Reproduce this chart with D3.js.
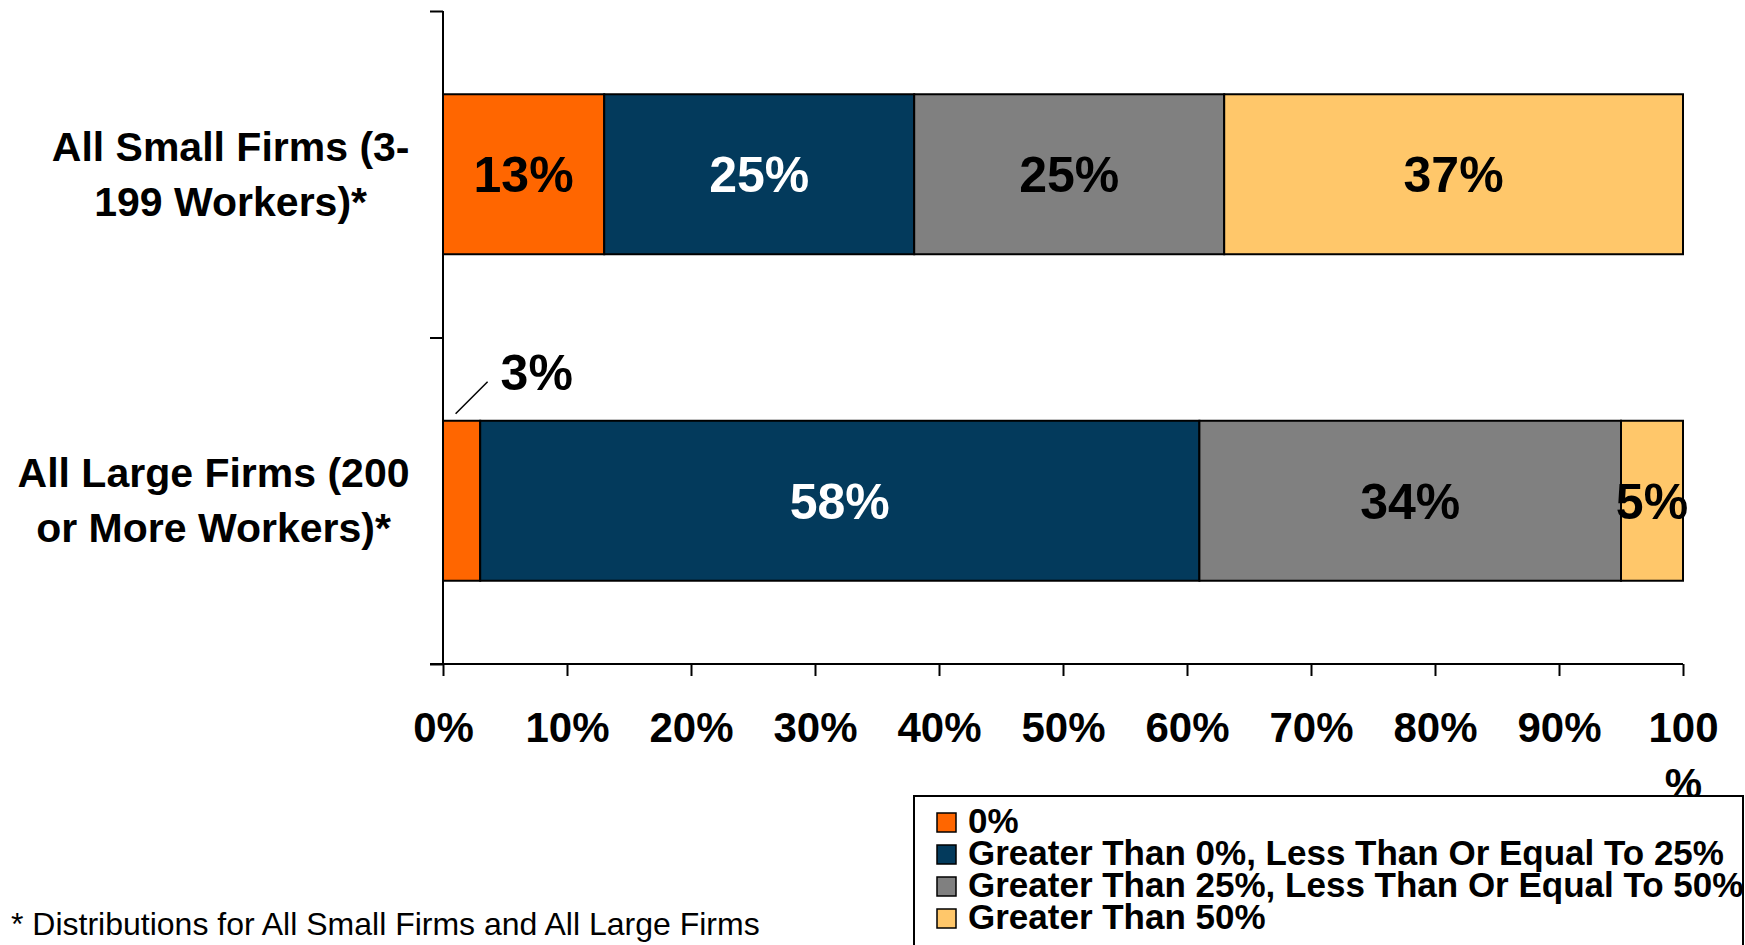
<!DOCTYPE html>
<html>
<head>
<meta charset="utf-8">
<script src="https://cdn.jsdelivr.net/npm/d3@7"></script>
<style>
  html, body { margin: 0; padding: 0; background: #fff; }
  svg { display: block; }
  text { font-family: "Liberation Sans", Arial, Helvetica, sans-serif; }
</style>
</head>
<body>
<svg id="chart" width="1745" height="945"></svg>
<script>
// Firm-size groups, each label split into its two display lines
const categories = ["small", "large"];
const categoryLines = [
  ["All Small Firms (3-", "199 Workers)*"],
  ["All Large Firms (200", "or More Workers)*"]
];

// Share of workers, by bucket
const seriesNames = [
  "0%",
  "Greater Than 0%, Less Than Or Equal To 25%",
  "Greater Than 25%, Less Than Or Equal To 50%",
  "Greater Than 50%"
];
const smallFirms = [13, 25, 25, 37];
const largeFirms = [3, 58, 34, 5];

const tickValues = [0, 10, 20, 30, 40, 50, 60, 70, 80, 90, 100];
const footnote = "* Distributions for All Small Firms and All Large Firms";

const fills = ["#FF6600", "#033A5C", "#808080", "#FFC76A"];
const labelColors = ["#000", "#fff", "#000", "#000"];

const FONT = "\"Liberation Sans\", Arial, Helvetica, sans-serif";

const svg = d3.select("#chart");

const plotLeft = 443, plotRight = 1683, plotTop = 11, plotBottom = 664;

const x = d3.scaleLinear().domain([0, 100]).range([plotLeft, plotRight]);
const y = d3.scaleBand().domain(categories).range([plotTop, plotBottom])
  .paddingInner(0.51).paddingOuter(0.255);
const yEdge = d3.scaleLinear().domain([0, categories.length]).range([plotTop, plotBottom]);

// Stack the buckets for each firm group
const rows = categories.map((c, i) => {
  const vals = i === 0 ? smallFirms : largeFirms;
  const o = { cat: c };
  seriesNames.forEach((s, j) => { o[s] = vals[j]; });
  return o;
});
const stacked = d3.stack().keys(seriesNames)(rows);

// Bars
const layers = svg.append("g").selectAll("g")
  .data(stacked)
  .join("g")
  .attr("fill", (d, i) => fills[i]);

layers.selectAll("rect")
  .data(d => d)
  .join("rect")
  .attr("x", d => x(d[0]))
  .attr("y", d => y(d.data.cat))
  .attr("width", d => x(d[1]) - x(d[0]))
  .attr("height", y.bandwidth())
  .attr("stroke", "#000")
  .attr("stroke-width", 2);

// Value labels
const labelData = [];
stacked.forEach((layer, si) => {
  layer.forEach(d => {
    labelData.push({ si, cat: d.data.cat, v0: d[0], v1: d[1], value: d[1] - d[0] });
  });
});

const gLabels = svg.append("g")
  .attr("font-size", 50)
  .attr("font-weight", "bold");

labelData.forEach(d => {
  const cy = y(d.cat) + y.bandwidth() / 2;
  if (d.value < 4) {
    // Narrow segment: label sits above the bar with a leader line
    const sx = (x(d.v0) + x(d.v1)) / 2 - 6;
    const sy = y(d.cat) - 7;
    svg.append("line")
      .attr("x1", sx).attr("y1", sy)
      .attr("x2", sx + 32).attr("y2", sy - 32)
      .attr("stroke", "#000").attr("stroke-width", 1.5);
    gLabels.append("text")
      .attr("x", sx + 45)
      .attr("y", sy - 24)
      .attr("fill", "#000")
      .text(d.value + "%");
  } else {
    gLabels.append("text")
      .attr("x", (x(d.v0) + x(d.v1)) / 2)
      .attr("y", cy + 18)
      .attr("text-anchor", "middle")
      .attr("fill", labelColors[d.si])
      .text(d.value + "%");
  }
});

// Vertical axis with ticks at the group boundaries
const yAxis = svg.append("g")
  .attr("transform", `translate(${plotLeft},0)`)
  .call(d3.axisLeft(yEdge).ticks(categories.length).tickSize(13).tickFormat(""));
yAxis.selectAll("path, line").attr("stroke", "#000").attr("stroke-width", 2);
yAxis.select(".domain").attr("d", `M0,${plotTop}V${plotBottom}`);

// Horizontal axis
const xAxis = svg.append("g")
  .attr("transform", `translate(0,${plotBottom})`)
  .call(d3.axisBottom(x).tickValues(tickValues).tickSizeInner(12).tickSizeOuter(0)
    .tickPadding(36).tickFormat(d => d + "%"));
xAxis.select(".domain").attr("d", `M${plotLeft - 13},0H${plotRight}`);
xAxis.selectAll("path, line").attr("stroke", "#000").attr("stroke-width", 2);
xAxis.selectAll("text")
  .attr("font-family", FONT)
  .attr("font-size", 42)
  .attr("font-weight", "bold")
  .attr("fill", "#000");

// The last tick label wraps onto a second line
xAxis.selectAll(".tick text")
  .filter(d => d === 100)
  .each(function () {
    const t = d3.select(this);
    const dy = t.attr("dy");
    t.text(null);
    t.append("tspan").attr("x", 0).attr("dy", dy).text("100");
    t.append("tspan").attr("x", 0).attr("dy", 56).text("%");
  });

// Category labels: lines centred within a block that ends at the axis
const gCat = svg.append("g")
  .attr("font-size", 41)
  .attr("font-weight", "bold")
  .attr("fill", "#000");

categories.forEach((c, i) => {
  const cy = y(c) + y.bandwidth() / 2;
  const lines = categoryLines[i];
  const texts = lines.map((ln, k) =>
    gCat.append("text")
      .attr("y", cy - 27.5 + k * 55 + 14)
      .attr("text-anchor", "middle")
      .text(ln));
  const widths = texts.map(t => t.node().getComputedTextLength());
  const blockW = d3.max(widths);
  const center = 409.5 - blockW / 2;
  texts.forEach(t => t.attr("x", center));
});

// Footnote
svg.append("text")
  .attr("x", 11)
  .attr("y", 935)
  .attr("font-size", 32)
  .attr("fill", "#000")
  .text(footnote);

// Legend
const legend = svg.append("g");
legend.append("rect")
  .attr("x", 914).attr("y", 796)
  .attr("width", 829).attr("height", 170)
  .attr("fill", "#fff")
  .attr("stroke", "#000")
  .attr("stroke-width", 2);

const items = legend.selectAll("g.item")
  .data(seriesNames)
  .join("g")
  .attr("class", "item")
  .attr("transform", (d, i) => `translate(937,${833 + i * 32})`);

items.append("rect")
  .attr("x", 0).attr("y", -20)
  .attr("width", 19).attr("height", 19)
  .attr("fill", (d, i) => fills[i])
  .attr("stroke", "#000")
  .attr("stroke-width", 1.5);

items.append("text")
  .attr("x", 31)
  .attr("y", 0)
  .attr("font-size", 35)
  .attr("font-weight", "bold")
  .attr("fill", "#000")
  .text(d => d);
</script>
</body>
</html>
